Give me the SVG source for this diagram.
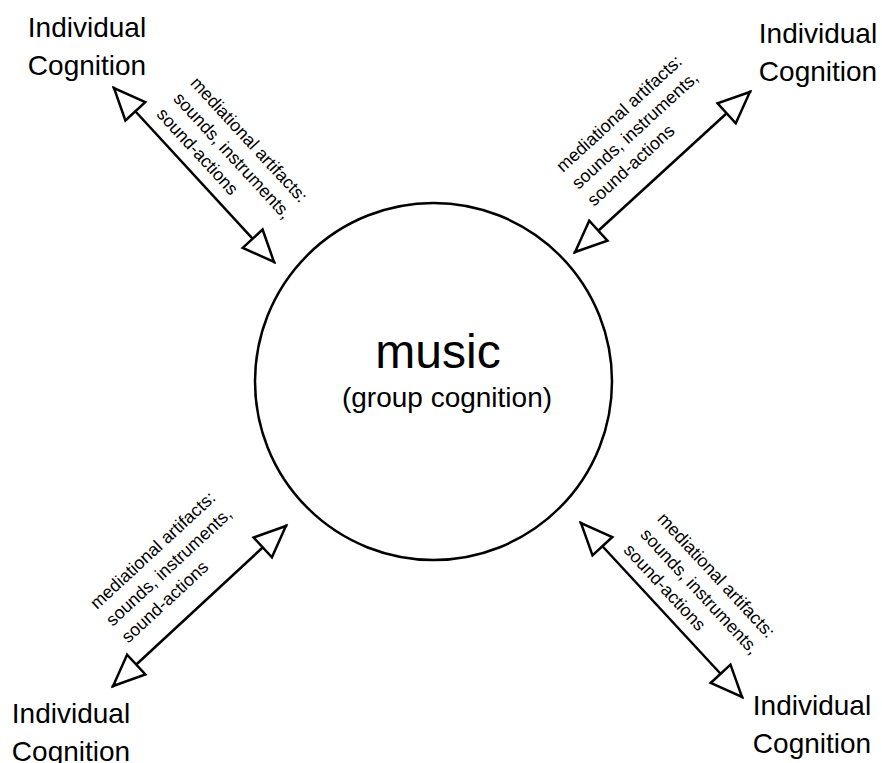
<svg xmlns="http://www.w3.org/2000/svg" width="882" height="763" viewBox="0 0 882 763">
<style>
text { font-family: "Liberation Sans", Arial, Helvetica, sans-serif; fill: #000; }
.ic { font-size: 28px; text-anchor: middle; }
.lab { font-size: 17.8px; }
.conn { stroke: #000; stroke-width: 2.5; fill: none; marker-start: url(#head); marker-end: url(#head); }
</style>
<defs>
<marker id="head" markerUnits="userSpaceOnUse" viewBox="-36 -17 41 34" markerWidth="41" markerHeight="34" refX="0" refY="0" orient="auto-start-reverse" overflow="visible">
<path d="M-1.5,0 L-33,-13.5 L-33,13.5 Z" fill="#fff" stroke="#000" stroke-width="2.5" stroke-linejoin="miter"/>
</marker>
</defs>
<rect width="882" height="763" fill="#fff"/>
<g id="connectors">
<path class="conn" d="M113,87 L275,263"/>
<path class="conn" d="M751,91 L574,253"/>
<path class="conn" d="M112,687 L287,525"/>
<path class="conn" d="M743,698 L580,522"/>
</g>
<g id="music">
<circle cx="433.5" cy="381.5" r="178.5" fill="#fff" stroke="#000" stroke-width="2.5"/>
<text x="438" y="368" font-size="48" text-anchor="middle">music</text>
<text x="447" y="407" font-size="28" text-anchor="middle">(group cognition)</text>
</g>
<g id="ic-top-left">
<text class="ic" x="87" y="37">Individual</text>
<text class="ic" x="87" y="75">Cognition</text>
</g>
<g id="ic-top-right">
<text class="ic" x="818" y="43">Individual</text>
<text class="ic" x="818" y="81">Cognition</text>
</g>
<g id="ic-bottom-left">
<text class="ic" x="71" y="723">Individual</text>
<text class="ic" x="71" y="761">Cognition</text>
</g>
<g id="ic-bottom-right">
<text class="ic" x="812" y="715">Individual</text>
<text class="ic" x="812" y="753">Cognition</text>
</g>
<g id="label-top-left">
<text class="lab" transform="translate(189.5,83.7) rotate(47.4)"><tspan x="0" y="0">mediational artifacts:</tspan><tspan x="0" y="23">sounds, instruments,</tspan><tspan x="0" y="46">sound-actions</tspan></text>
</g>
<g id="label-top-right">
<text class="lab" transform="translate(563,173) rotate(-42.5)"><tspan x="0" y="0">mediational artifacts:</tspan><tspan x="0" y="23">sounds, instruments,</tspan><tspan x="0" y="46">sound-actions</tspan></text>
</g>
<g id="label-bottom-left">
<text class="lab" transform="translate(97,610) rotate(-42.8)"><tspan x="0" y="0">mediational artifacts:</tspan><tspan x="0" y="23">sounds, instruments,</tspan><tspan x="0" y="46">sound-actions</tspan></text>
</g>
<g id="label-bottom-right">
<text class="lab" transform="translate(656.5,519.5) rotate(47.2)"><tspan x="0" y="0">mediational artifacts:</tspan><tspan x="0" y="23">sounds, instruments,</tspan><tspan x="0" y="46">sound-actions</tspan></text>
</g>
</svg>
